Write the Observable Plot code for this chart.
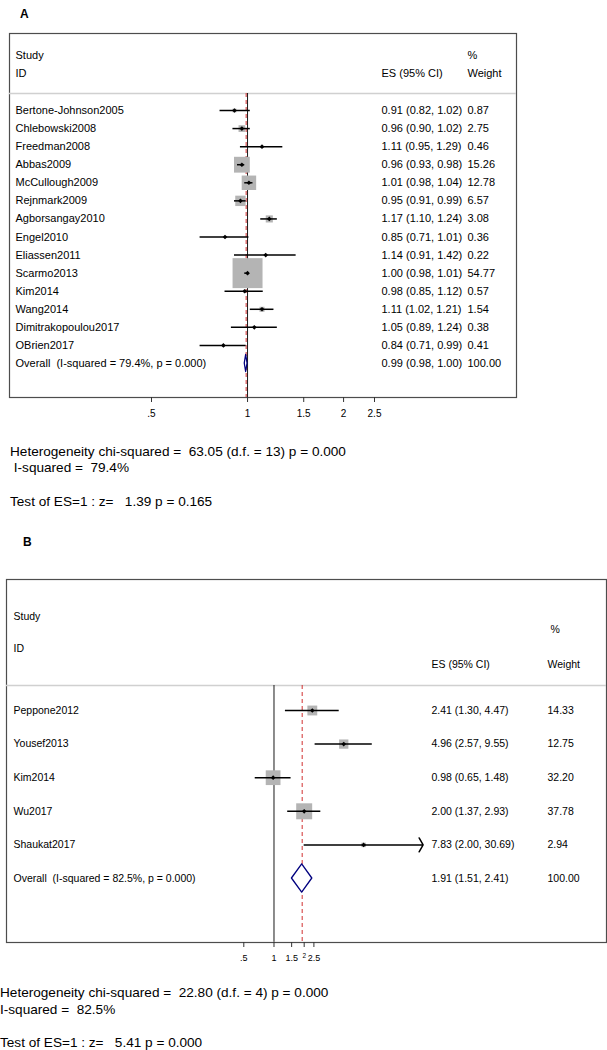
<!DOCTYPE html>
<html>
<head>
<meta charset="utf-8">
<script src="https://cdn.jsdelivr.net/npm/d3@7"></script>
<script src="https://cdn.jsdelivr.net/npm/@observablehq/plot@0.6"></script>
<style>
  html, body { margin: 0; padding: 0; background: #fff; }
  body { width: 607px; height: 1050px; position: relative; overflow: hidden;
         font-family: "Liberation Sans", Arial, sans-serif; color: #000; }
  .abs { position: absolute; white-space: pre; line-height: 1; }
  .panel { font-weight: bold; font-size: 12px; }
  .stat { font-size: 13.6px; }
</style>
</head>
<body>
<div id="plotA" class="abs" style="left:0;top:0"></div>
<div id="plotB" class="abs" style="left:0;top:530px"></div>
<div class="abs panel" style="left:20px;top:8px">A</div>
<div class="abs panel" style="left:23px;top:536px">B</div>
<div id="statsA"></div>
<div id="statsB"></div>
<script>
// ---------------- Panel A data ----------------
const studiesA = ["Bertone-Johnson2005", "Chlebowski2008", "Freedman2008", "Abbas2009",
  "McCullough2009", "Rejnmark2009", "Agborsangay2010", "Engel2010", "Eliassen2011",
  "Scarmo2013", "Kim2014", "Wang2014", "Dimitrakopoulou2017", "OBrien2017"];
const esA = [0.91, 0.96, 1.11, 0.96, 1.01, 0.95, 1.17, 0.85, 1.14, 1.00, 0.98, 1.11, 1.05, 0.84];
const loA = [0.82, 0.90, 0.95, 0.93, 0.98, 0.91, 1.10, 0.71, 0.91, 0.98, 0.85, 1.02, 0.89, 0.71];
const hiA = [1.02, 1.02, 1.29, 0.98, 1.04, 0.99, 1.24, 1.01, 1.42, 1.01, 1.12, 1.21, 1.24, 0.99];
const weightA = [0.87, 2.75, 0.46, 15.26, 12.78, 6.57, 3.08, 0.36, 0.22, 54.77, 0.57, 1.54, 0.38, 0.41];
const overallLabelA = "Overall  (I-squared = 79.4%, p = 0.000)";
const overallA = [0.99, 0.98, 1.00];      // es, lo, hi
const overallWeightA = 100.00;
const ticksA = [0.5, 1, 1.5, 2, 2.5];
const tickLabelsA = [".5", "1", "1.5", "2", "2.5"];
const statsA = ["Heterogeneity chi-squared =  63.05 (d.f. = 13) p = 0.000",
  " I-squared =  79.4%", "Test of ES=1 : z=   1.39 p = 0.165"];

// ---------------- Panel B data ----------------
const studiesB = ["Peppone2012", "Yousef2013", "Kim2014", "Wu2017", "Shaukat2017"];
const esB = [2.41, 4.96, 0.98, 2.00, 7.83];
const loB = [1.30, 2.57, 0.65, 1.37, 2.00];
const hiB = [4.47, 9.55, 1.48, 2.93, 30.69];
const weightB = [14.33, 12.75, 32.20, 37.78, 2.94];
const overallLabelB = "Overall  (I-squared = 82.5%, p = 0.000)";
const overallB = [1.91, 1.51, 2.41];
const overallWeightB = 100.00;
const ticksB = [0.5, 1, 1.5, 2, 2.5];
const tickLabelsB = [".5", "1", "1.5", "2", "2.5"];
const statsB = ["Heterogeneity chi-squared =  22.80 (d.f. = 4) p = 0.000",
  "I-squared =  82.5%", "Test of ES=1 : z=   5.41 p = 0.000"];

const FONT = "'Liberation Sans', Arial, sans-serif";
const fmt = v => v.toFixed(2);

function forest(o) {
  const L = o.layout;
  const rows = o.studies.map((s, i) => ({name: s, es: o.es[i], lo: o.lo[i], hi: o.hi[i], w: o.w[i], i}));
  const n = rows.length;
  const ov = {name: o.overallLabel, es: o.overall[0], lo: o.overall[1], hi: o.overall[2], w: o.overallWeight, i: n};
  const all = [...rows, ov];
  const lines = rows.filter(d => d.hi <= o.arrowBeyond);
  const arrows = rows.filter(d => d.hi > o.arrowBeyond);
  const diamond = [
    {x: ov.lo, a: n, b: n},
    {x: ov.es, a: n - L.dh, b: n + L.dh},
    {x: ov.hi, a: n, b: n}
  ];
  const tick = o.ticks.map((t, k) => ({t, label: o.tickLabels[k]}));
  const small = d => L.smallTwo && d.t === 2;
  const colText = (data, text, dx, extra = {}) =>
    Plot.text(data, {text, frameAnchor: "left", dx, textAnchor: "start", lineAnchor: "middle", fontSize: L.fs, ...extra});
  const marks = [
    Plot.frame({stroke: "#4d4d4d", strokeWidth: 1.2}),
    Plot.ruleY([L.sep], {stroke: "#d0d0d0", strokeWidth: 1.5}),
    Plot.ruleX([1], {y1: L.sep, y2: L.bottom, stroke: "#1a1a1a", strokeWidth: 1}),
    Plot.ruleX([ov.es], {y1: L.sep, y2: L.bottom, stroke: "#d23030", strokeWidth: 1, strokeDasharray: "4,3"}),
    Plot.dot(rows, {x: "es", y: "i", r: "w", symbol: "square", fill: "#b4b4b4"}),
    Plot.ruleY(lines, {y: "i", x1: "lo", x2: "hi", stroke: "#000", strokeWidth: 1.5}),
    Plot.arrow(arrows, {x1: "lo", x2: "hi", y1: "i", y2: "i", stroke: "#000", strokeWidth: 1.5,
      headAngle: 120, headLength: 8}),
    Plot.dot(rows, {x: "es", y: "i", symbol: "diamond2", r: 2.1, fill: "#000"}),
    Plot.area(diamond, {x1: "x", y1: "a", y2: "b", fill: "white", stroke: "#00007f", strokeWidth: 1.3}),
    // columns
    colText(all, "name", L.nameDx, {y: "i"}),
    colText(all, d => `${fmt(d.es)} (${fmt(d.lo)}, ${fmt(d.hi)})`, L.esDx, {y: "i"}),
    colText(all, d => fmt(d.w), L.wDx, {y: "i"}),
    // headers
    colText(["Study"], d => d, L.nameDx, {y: [L.hStudy]}),
    colText(["ID"], d => d, L.nameDx, {y: [L.hID]}),
    colText(["ES (95% CI)"], d => d, L.esDx, {y: [L.hES]}),
    colText(["%"], d => d, L.pctDx, {y: [L.hPct]}),
    colText(["Weight"], d => d, L.wDx, {y: [L.hES]}),
    // axis: tick marks from the library, labels as text at the tick values
    Plot.axisX(o.ticks, {anchor: "bottom", tickSize: 5, stroke: "#333", tickFormat: () => ""}),
    Plot.text(tick.filter(d => !small(d)), {x: "t", text: "label", frameAnchor: "bottom", dy: L.tickDy,
      fontSize: L.tickFs, lineAnchor: "middle", textAnchor: "middle"}),
    Plot.text(tick.filter(small), {x: "t", text: "label", frameAnchor: "bottom", dy: L.tickDy - 3,
      fontSize: L.tickFs * 0.72, lineAnchor: "middle", textAnchor: "middle"})
  ];
  return Plot.plot({
    width: 607, height: L.height,
    marginLeft: L.ml, marginRight: L.mr, marginTop: L.mt, marginBottom: L.mb,
    style: {fontFamily: FONT, fontSize: L.fs + "px", background: "transparent", overflow: "visible", color: "#000"},
    x: {type: "log", domain: [o.ticks[0], o.ticks[o.ticks.length - 1]], range: L.xRange, label: null, axis: null},
    y: {type: "linear", domain: [0, n], range: L.yRange, axis: null, label: null},
    r: {type: "sqrt", domain: [0, 100], range: [0, L.rMax]},
    marks
  });
}

const plotA = forest({
  studies: studiesA, es: esA, lo: loA, hi: hiA, w: weightA,
  overallLabel: overallLabelA, overall: overallA, overallWeight: overallWeightA,
  ticks: ticksA, tickLabels: tickLabelsA, arrowBeyond: Infinity,
  layout: {height: 420, ml: 9, mr: 91, mt: 33, mb: 23,
    xRange: [151, 374], yRange: [110, 363],
    sep: -0.94, bottom: 15.88, dh: 0.47,
    hStudy: -3.04, hID: -2.04, hES: -2.04, hPct: -3.04,
    nameDx: 6, esDx: 372, wDx: 458, pctDx: 458,
    fs: 11, tickFs: 10, tickDy: 16, rMax: 22.85, smallTwo: false}
});
document.getElementById("plotA").appendChild(plotA);

const plotB = forest({
  studies: studiesB, es: esB, lo: loB, hi: hiB, w: weightB,
  overallLabel: overallLabelB, overall: overallB, overallWeight: overallWeightB,
  ticks: ticksB, tickLabels: tickLabelsB, arrowBeyond: 20,
  layout: {height: 440, ml: 6, mr: 1, mt: 49, mb: 28,
    xRange: [243.3, 313.4], yRange: [180, 348],
    sep: -0.744, bottom: 6.9, dh: 0.42,
    hStudy: -2.80, hID: -1.83, hES: -1.37, hPct: -2.42,
    nameDx: 7, esDx: 425, wDx: 541, pctDx: 544,
    fs: 10.5, tickFs: 9, tickDy: 16, rMax: 14.67, smallTwo: true}
});
document.getElementById("plotB").appendChild(plotB);

function stats(id, lines, left, tops) {
  const host = document.getElementById(id);
  lines.forEach((t, k) => {
    const d = document.createElement("div");
    d.className = "abs stat";
    d.style.left = left + "px";
    d.style.top = tops[k] + "px";
    d.textContent = t;
    host.appendChild(d);
  });
}
stats("statsA", statsA, 10, [445, 461, 495]);
stats("statsB", statsB, 0, [986, 1003, 1036]);
</script>
</body>
</html>
